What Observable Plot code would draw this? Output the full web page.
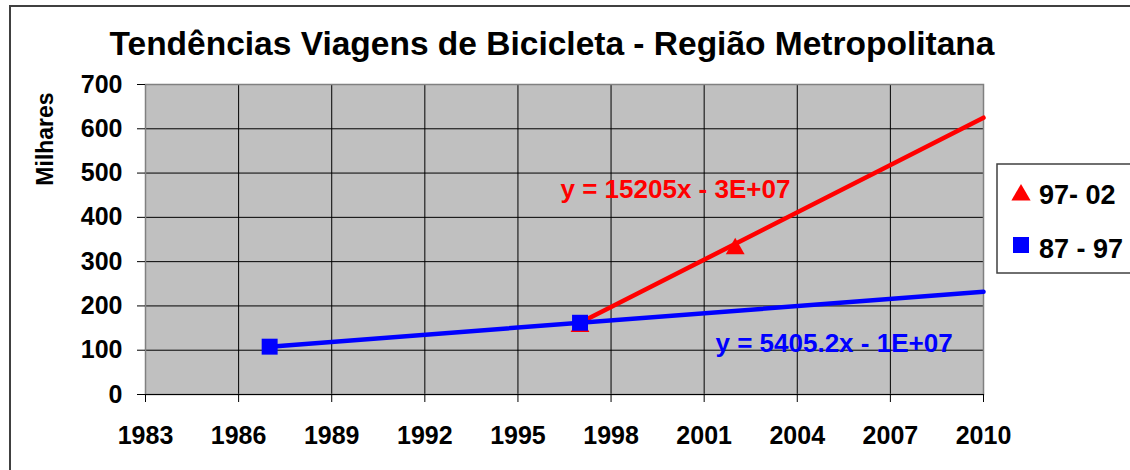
<!DOCTYPE html>
<html><head><meta charset="utf-8">
<script src="https://cdn.jsdelivr.net/npm/d3@7"></script>
<script src="https://cdn.jsdelivr.net/npm/@observablehq/plot@0.6"></script>
<style>
body{margin:0;background:#fff;}
#chart{position:relative;width:1130px;height:470px;overflow:hidden;}
</style></head><body><div id="chart"></div>
<script>
const titleText = "Tendências Viagens de Bicicleta - Região Metropolitana";
const yLabel = "Milhares";
const xTicks = [1983, 1986, 1989, 1992, 1995, 1998, 2001, 2004, 2007, 2010];
const yTicks = [0, 100, 200, 300, 400, 500, 600, 700];
const seriesNames = ["97- 02", "87 - 97"];
const seriesColors = ["#FF0000", "#0000FF"];
const redYears = [1997, 2002];
const redValues = [160, 336];
const blueYears = [1987, 1997];
const blueValues = [108, 162];
const redTrendYears = [1997, 2010];
const redTrendValues = [162, 625];
const blueTrendYears = [1987, 2010];
const blueTrendValues = [108, 232];
const equations = ["y = 15205x - 3E+07", "y = 5405.2x - 1E+07"];

const font = 'Arial, "Liberation Sans", sans-serif';
const W = 1130, H = 470, mL = 145, mT = 84, mR = W - 983, mB = H - 394;
const zip = (xs, ys) => xs.map((x, i) => ({x, y: ys[i]}));
const red = zip(redYears, redValues);
const blue = zip(blueYears, blueValues);
const redTrend = zip(redTrendYears, redTrendValues);
const blueTrend = zip(blueTrendYears, blueTrendValues);

const svg = Plot.plot({
  width: W, height: H,
  marginLeft: mL, marginRight: mR, marginTop: mT, marginBottom: mB,
  style: {fontFamily: font, fontWeight: "bold", fontSize: "25px", color: "#000", background: "transparent", overflow: "visible"},
  x: {domain: [1983, 2010]},
  y: {domain: [0, 700]},
  marks: [
    Plot.frame({fill: "#C0C0C0"}),
    Plot.ruleX(xTicks.slice(1, -1), {stroke: "#000", strokeWidth: 1}),
    Plot.ruleY(yTicks.slice(1, -1), {stroke: "#000", strokeWidth: 1}),
    Plot.frame({stroke: "#808080", strokeWidth: 1.5}),
    Plot.ruleY([0], {stroke: "#000", strokeWidth: 1.2}),
    Plot.axisX({ticks: xTicks, tickFormat: d => String(d), tickSize: 8, tickPadding: 24, label: null, fontSize: 25}),
    Plot.axisY({ticks: yTicks, tickSize: 8, tickPadding: 15, label: null, fontSize: 25}),
    Plot.line(redTrend, {x: "x", y: "y", stroke: seriesColors[0], strokeWidth: 4.5}),
    Plot.line(blueTrend, {x: "x", y: "y", stroke: seriesColors[1], strokeWidth: 4.5}),
    Plot.dot(red, {x: "x", y: "y", symbol: "triangle", r: 7, fill: seriesColors[0], stroke: null, dy: 3}),
    Plot.dot(blue, {x: "x", y: "y", symbol: "square", r: 9, fill: seriesColors[1], stroke: null}),
    Plot.text([equations[0]], {text: d => d, frameAnchor: "top-left", dx: 415, dy: 105, textAnchor: "start", lineAnchor: "middle", fill: seriesColors[0], fontSize: 26}),
    Plot.text([equations[1]], {text: d => d, frameAnchor: "top-left", dx: 570, dy: 259, textAnchor: "start", lineAnchor: "middle", fill: seriesColors[1], fontSize: 26})
  ]
});
svg.style.position = "absolute";
svg.style.left = "0px";
svg.style.top = "0px";
document.getElementById("chart").appendChild(svg);

const s = d3.select(svg);
s.append("path").attr("d", `M10,${H} L10,6 L${W},6`).attr("fill", "none").attr("stroke", "#404040").attr("stroke-width", 2);
s.append("text").attr("x", 552).attr("y", 55).attr("text-anchor", "middle")
  .style("font-size", "33.5px").style("font-weight", "bold").attr("fill", "#000").text(titleText);
s.append("text").attr("transform", "translate(53,139) rotate(-90)").attr("text-anchor", "middle")
  .style("font-size", "23px").style("font-weight", "bold").attr("fill", "#000").text(yLabel);

const lg = s.append("g");
lg.append("rect").attr("x", 997).attr("y", 164).attr("width", 140).attr("height", 109)
  .attr("fill", "#fff").attr("stroke", "#404040").attr("stroke-width", 1.5);
const items = [
  {name: seriesNames[0], color: seriesColors[0], sym: d3.symbolTriangle, size: 160, cy: 195, base: 204},
  {name: seriesNames[1], color: seriesColors[1], sym: d3.symbolSquare, size: 256, cy: 245, base: 258}
];
items.forEach(it => {
  lg.append("path").attr("d", d3.symbol(it.sym, it.size)()).attr("transform", `translate(1021,${it.cy})`).attr("fill", it.color);
  lg.append("text").attr("x", 1039).attr("y", it.base).attr("text-anchor", "start").style("font-size", "27px").style("font-weight", "bold").attr("fill", "#000").text(it.name);
});
</script></body></html>
